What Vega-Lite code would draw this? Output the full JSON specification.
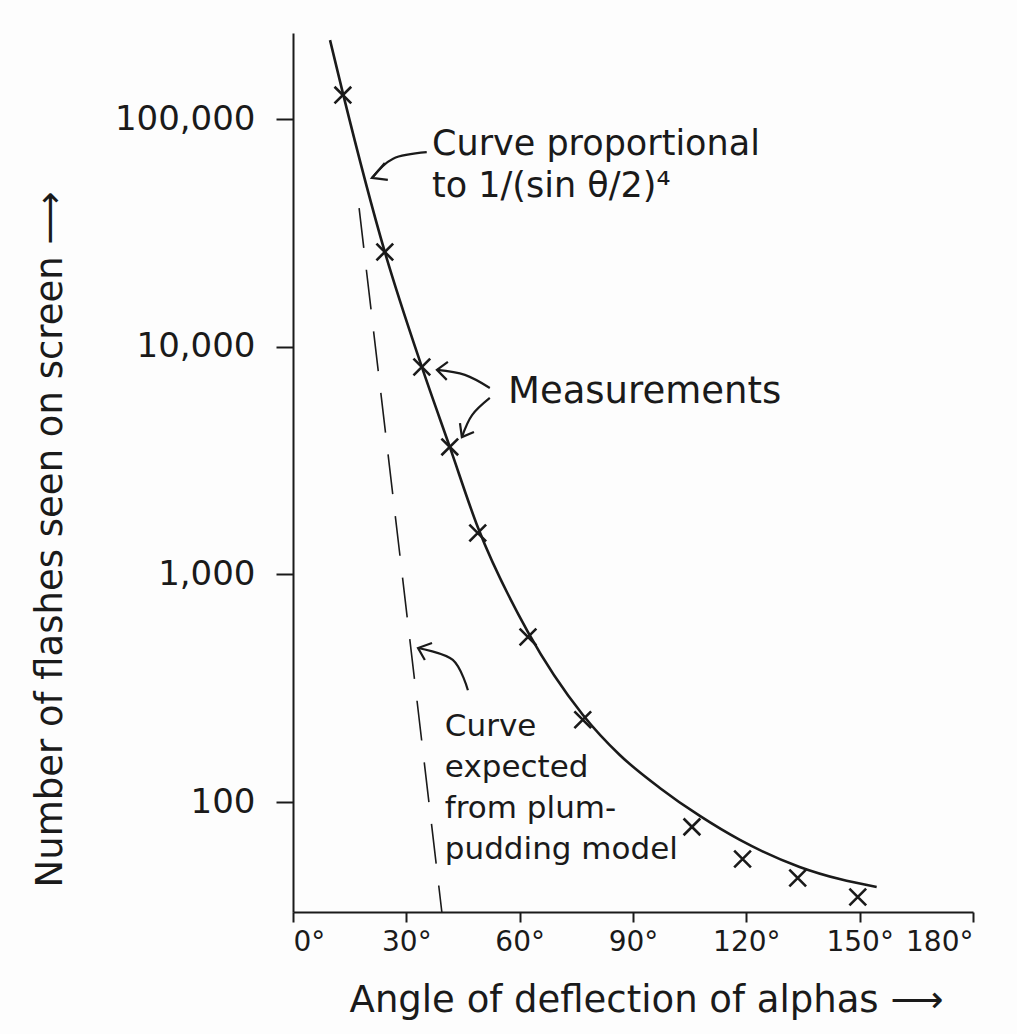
{
  "$schema": "https://vega.github.io/schema/vega-lite/v6.json",
  "width": 680,
  "height": 879,
  "autosize": {"type": "none"},
  "padding": {"left": 293, "top": 33, "right": 44, "bottom": 122},
  "background": "#fdfdfd",
  "config": {
    "view": {"stroke": null},
    "font": "DejaVu Sans",
    "axis": {
      "grid": false,
      "domainColor": "#1a1a1a",
      "domainWidth": 2,
      "tickColor": "#1a1a1a",
      "tickWidth": 2,
      "labelColor": "#1a1a1a",
      "titleColor": "#1a1a1a",
      "labelFont": "DejaVu Sans",
      "titleFont": "DejaVu Sans",
      "titleFontWeight": "normal"
    }
  },
  "datasets": {
    "measurements": [
      {"angle": 13.2, "count": 127400},
      {"angle": 24.3, "count": 26060},
      {"angle": 34.1, "count": 8150},
      {"angle": 41.5, "count": 3630},
      {"angle": 48.9, "count": 1520},
      {"angle": 62.2, "count": 531},
      {"angle": 76.7, "count": 230},
      {"angle": 105.6, "count": 77.8},
      {"angle": 119.0, "count": 56.2},
      {"angle": 133.6, "count": 46.4},
      {"angle": 149.5, "count": 38.3}
    ],
    "curve": [
      {"angle": 9.8, "count": 222000},
      {"angle": 13.2, "count": 130000},
      {"angle": 24.3, "count": 26100},
      {"angle": 34.1, "count": 8150},
      {"angle": 41.5, "count": 3630},
      {"angle": 48.9, "count": 1614},
      {"angle": 62.2, "count": 558},
      {"angle": 76.7, "count": 242},
      {"angle": 86.5, "count": 161},
      {"angle": 97.1, "count": 115.4},
      {"angle": 107.7, "count": 86.9},
      {"angle": 118.3, "count": 68.2},
      {"angle": 134.1, "count": 51.9},
      {"angle": 144.7, "count": 45.9},
      {"angle": 154.5, "count": 42.4}
    ],
    "plum": [
      {"angle": 17.5, "count": 40600},
      {"angle": 39.4, "count": 32.9}
    ],
    "notes": [
      {"note": "inverse", "angle": 36.8, "count": 69500, "label": ["Curve proportional", "to 1/(sin θ/2)⁴"]},
      {"note": "measured", "angle": 56.9, "count": 5660, "label": ["Measurements"]},
      {"note": "plum", "angle": 40.2, "count": 195, "label": ["Curve", "expected", "from plum-", "pudding model"]}
    ],
    "arrows": [
      {"arrow": "a", "kind": "shaft", "i": 0, "angle": 35.4, "count": 71500},
      {"arrow": "a", "kind": "shaft", "i": 1, "angle": 26.5, "count": 67000},
      {"arrow": "a", "kind": "shaft", "i": 2, "angle": 20.9, "count": 55100},
      {"arrow": "a", "kind": "head", "i": 0, "angle": 24.3, "count": 64100},
      {"arrow": "a", "kind": "head", "i": 1, "angle": 20.9, "count": 55100},
      {"arrow": "a", "kind": "head", "i": 2, "angle": 25.1, "count": 54000},
      {"arrow": "b1", "kind": "shaft", "i": 0, "angle": 52.1, "count": 6590},
      {"arrow": "b1", "kind": "shaft", "i": 1, "angle": 45.5, "count": 7520},
      {"arrow": "b1", "kind": "shaft", "i": 2, "angle": 38.1, "count": 7910},
      {"arrow": "b1", "kind": "head", "i": 0, "angle": 41.0, "count": 8570},
      {"arrow": "b1", "kind": "head", "i": 1, "angle": 38.1, "count": 7910},
      {"arrow": "b1", "kind": "head", "i": 2, "angle": 40.7, "count": 7150},
      {"arrow": "b2", "kind": "shaft", "i": 0, "angle": 52.1, "count": 5960},
      {"arrow": "b2", "kind": "shaft", "i": 1, "angle": 47.4, "count": 5010},
      {"arrow": "b2", "kind": "shaft", "i": 2, "angle": 44.7, "count": 4010},
      {"arrow": "b2", "kind": "head", "i": 0, "angle": 44.2, "count": 4620},
      {"arrow": "b2", "kind": "head", "i": 1, "angle": 44.7, "count": 4010},
      {"arrow": "b2", "kind": "head", "i": 2, "angle": 47.9, "count": 4220},
      {"arrow": "c", "kind": "shaft", "i": 0, "angle": 46.3, "count": 310},
      {"arrow": "c", "kind": "shaft", "i": 1, "angle": 42.3, "count": 421},
      {"arrow": "c", "kind": "shaft", "i": 2, "angle": 33.1, "count": 475},
      {"arrow": "c", "kind": "head", "i": 0, "angle": 36.8, "count": 500},
      {"arrow": "c", "kind": "head", "i": 1, "angle": 33.1, "count": 475},
      {"arrow": "c", "kind": "head", "i": 2, "angle": 34.9, "count": 421}
    ]
  },
  "encoding": {
    "x": {
      "field": "angle",
      "type": "quantitative",
      "scale": {"domain": [0, 180], "nice": false, "zero": false},
      "axis": {
        "values": [0, 30, 60, 90, 120, 150, 180],
        "labelExpr": "datum.value + '°'",
        "labelFontSize": 28,
        "labelPadding": 6,
        "tickSize": 10,
        "title": "Angle of deflection of alphas ⟶",
        "titleFontSize": 37,
        "titleX": 353,
        "titleY": 88,
        "titleBaseline": "middle",
        "titleAlign": "center"
      }
    },
    "y": {
      "field": "count",
      "type": "quantitative",
      "scale": {"type": "log", "domain": [32.9, 238700], "nice": false},
      "axis": {
        "values": [100, 1000, 10000, 100000],
        "format": ",",
        "labelFontSize": 34,
        "labelPadding": 21,
        "tickSize": 17,
        "title": "Number of flashes seen on screen ⟶",
        "titleFontSize": 37,
        "titleAngle": -90,
        "titleX": -243,
        "titleY": 506,
        "titleBaseline": "middle",
        "titleAlign": "center"
      }
    }
  },
  "layer": [
    {
      "data": {"name": "plum"},
      "mark": {"type": "line", "stroke": "#1a1a1a", "strokeWidth": 1.6, "strokeDash": [40, 22], "clip": true}
    },
    {
      "data": {"name": "curve"},
      "mark": {"type": "line", "interpolate": "monotone", "stroke": "#1a1a1a", "strokeWidth": 2.6}
    },
    {
      "data": {"name": "measurements"},
      "mark": {"type": "point", "shape": "M-1,-1L1,1M-1,1L1,-1", "filled": false, "stroke": "#1a1a1a", "strokeWidth": 2.6, "size": 280, "opacity": 1}
    },
    {
      "data": {"name": "arrows"},
      "transform": [{"filter": "datum.kind === 'shaft'"}],
      "mark": {"type": "line", "interpolate": "cardinal", "stroke": "#1a1a1a", "strokeWidth": 2.2},
      "encoding": {"detail": {"field": "arrow"}, "order": {"field": "i"}}
    },
    {
      "data": {"name": "arrows"},
      "transform": [{"filter": "datum.kind === 'head'"}],
      "mark": {"type": "line", "stroke": "#1a1a1a", "strokeWidth": 2.2},
      "encoding": {"detail": {"field": "arrow"}, "order": {"field": "i"}}
    },
    {
      "data": {"name": "notes"},
      "transform": [{"filter": "datum.note === 'inverse'"}],
      "mark": {"type": "text", "align": "left", "baseline": "alphabetic", "fontSize": 35, "lineHeight": 42, "color": "#1a1a1a"},
      "encoding": {"text": {"field": "label"}}
    },
    {
      "data": {"name": "notes"},
      "transform": [{"filter": "datum.note === 'measured'"}],
      "mark": {"type": "text", "align": "left", "baseline": "alphabetic", "fontSize": 37, "color": "#1a1a1a"},
      "encoding": {"text": {"field": "label"}}
    },
    {
      "data": {"name": "notes"},
      "transform": [{"filter": "datum.note === 'plum'"}],
      "mark": {"type": "text", "align": "left", "baseline": "alphabetic", "fontSize": 31, "lineHeight": 41, "color": "#1a1a1a"},
      "encoding": {"text": {"field": "label"}}
    }
  ]
}
